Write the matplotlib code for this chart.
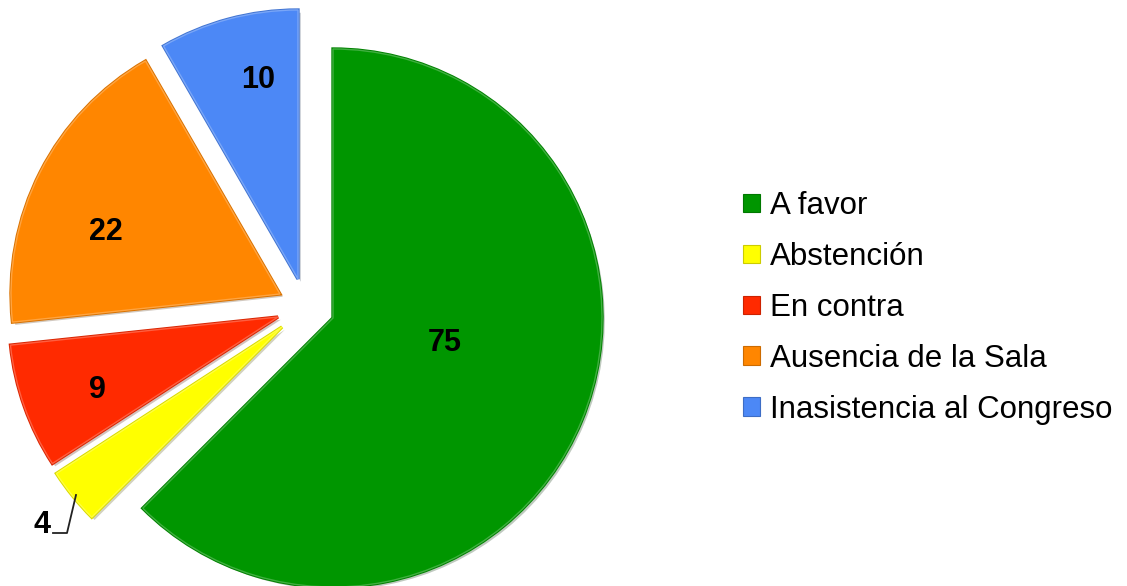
import matplotlib
matplotlib.use("Agg")
import matplotlib.pyplot as plt
import matplotlib.patheffects as pe
from matplotlib.patches import Rectangle
from matplotlib.colors import to_rgb

plt.rcParams["font.family"] = ["Liberation Sans", "DejaVu Sans"]

# Vote breakdown
categories = ["A favor", "Abstención", "En contra", "Ausencia de la Sala", "Inasistencia al Congreso"]
votes = [75, 4, 9, 22, 10]
colors = ["#009600", "#FFFF00", "#FF2A00", "#FF8600", "#4C88F6"]

# Layout (figure pixels, y measured upward)
W, H = 1127, 586
pie_center = (333, 268)
pie_radius = 269
slice_shift = [(0, 0), (-51, -9), (-55, 1), (-53, 24), (-35, 39)]
label_pos = [(445, 243), (42, 61), (97, 196), (106, 354), (258, 506)]


def darker(c, f=0.8):
    r, g, b = to_rgb(c)
    return (r * f, g * f, b * f)


def lighter(c, f=0.35):
    r, g, b = to_rgb(c)
    return (r + (1 - r) * f, g + (1 - g) * f, b + (1 - b) * f)


fig = plt.figure(figsize=(W / 100, H / 100), dpi=100)
ax = fig.add_axes([0, 0, 1, 1])

wedges, _ = ax.pie(votes, colors=colors, startangle=90, counterclock=False,
                   radius=pie_radius, center=pie_center)
for w, c, (dx, dy) in zip(wedges, colors, slice_shift):
    w.set_center((pie_center[0] + dx, pie_center[1] + dy))
    w.set_edgecolor(lighter(c, 0.25))
    w.set_linewidth(1.0)
    w.set_path_effects([
        pe.SimplePatchShadow(offset=(2, -2), alpha=0.25),
        pe.Stroke(linewidth=2.4, foreground=darker(c, 0.85)),
        pe.Normal(),
    ])

ax.set_xlim(0, W)
ax.set_ylim(0, H)
ax.set_aspect("equal")
ax.axis("off")

# Value labels
for v, (x, y) in zip(votes, label_pos):
    ax.text(x, y, str(v), ha="center", va="center", fontsize=22,
            fontweight="bold", color="black")

# Leader line for the small slice
ax.plot([53, 67, 76], [H - 533, H - 533, H - 495], color="#222222", lw=1.3)

# Legend
handles = [Rectangle((0, 0), 1, 1, facecolor=c, edgecolor=darker(c, 0.8), linewidth=0.8)
           for c in colors]
leg = ax.legend(handles, categories, loc="center left",
                bbox_to_anchor=(743 / W, (H - 308) / H), frameon=False,
                fontsize=22.5, handlelength=0.55, handleheight=0.55,
                handletextpad=0.3, labelspacing=0.67, borderpad=0, borderaxespad=0)

fig.savefig("out.png", dpi=100, facecolor="white")
